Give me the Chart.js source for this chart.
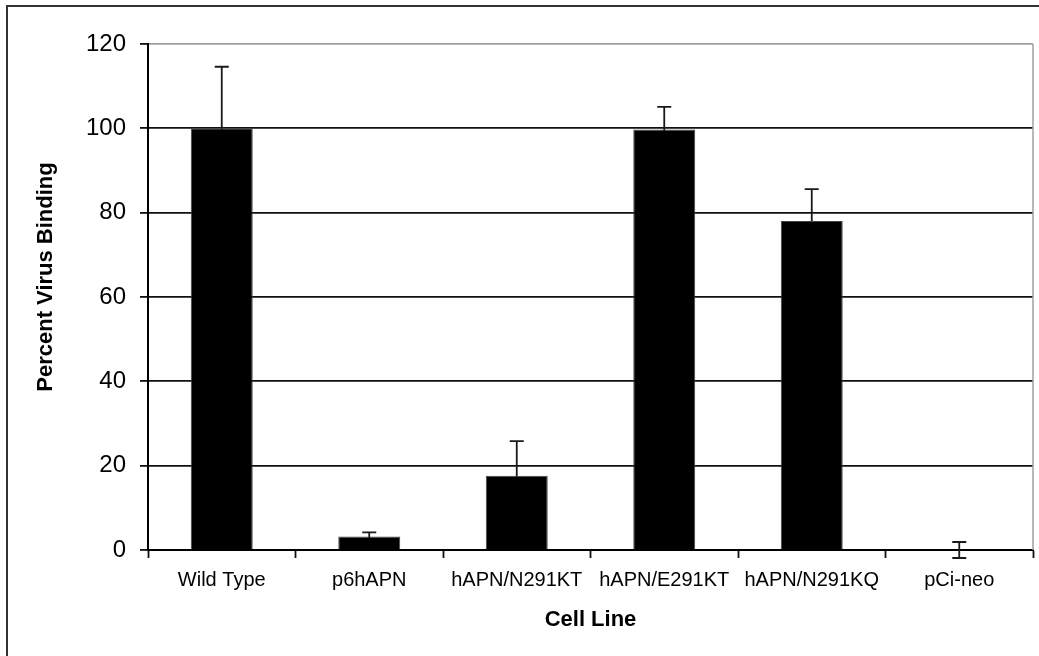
<!DOCTYPE html>
<html>
<head>
<meta charset="utf-8">
<script src="https://cdn.jsdelivr.net/npm/chart.js@4/dist/chart.umd.min.js"></script>
<style>
    body { margin: 0; background: #fff; }
    canvas { display: block; }
</style>
</head>
<body>
<canvas id="bindingChart" width="1039" height="656"></canvas>
<script>
// Data
const cellLines = ['Wild Type', 'p6hAPN', 'hAPN/N291KT', 'hAPN/E291KT', 'hAPN/N291KQ', 'pCi-neo'];
const bindingPct = [100, 3.2, 17.6, 99.7, 78, 0];
const bindingErr = [14.6, 1.0, 8.2, 5.4, 7.6, 1.9];
const yTicks = [0, 20, 40, 60, 80, 100, 120];

const FONT = "'Liberation Sans', Arial, sans-serif";

// Error bars (drawn under the bars, so only the upper half shows) + frame + y title
const extras = {
    id: 'extras',
    beforeDatasetsDraw(chart) {
        const ctx = chart.ctx;
        const y = chart.scales.y;
        const meta = chart.getDatasetMeta(0);
        ctx.save();
        ctx.strokeStyle = '#1a1a1a';
        ctx.lineWidth = 1.8;
        meta.data.forEach(function (bar, i) {
            const top = y.getPixelForValue(bindingPct[i] + bindingErr[i]);
            const bot = y.getPixelForValue(bindingPct[i] - bindingErr[i]);
            ctx.beginPath();
            ctx.moveTo(bar.x, top);
            ctx.lineTo(bar.x, bot);
            ctx.moveTo(bar.x - 7, top);
            ctx.lineTo(bar.x + 7, top);
            ctx.moveTo(bar.x - 7, bot);
            ctx.lineTo(bar.x + 7, bot);
            ctx.stroke();
        });
        ctx.restore();
    },
    afterDraw(chart) {
        const ctx = chart.ctx;
        const area = chart.chartArea;
        ctx.save();
        // right edge of the plot area
        ctx.strokeStyle = '#a0a0a0';
        ctx.lineWidth = 1.5;
        ctx.beginPath();
        ctx.moveTo(area.right, area.top);
        ctx.lineTo(area.right, area.bottom);
        ctx.stroke();
        // outer frame
        ctx.strokeStyle = '#333';
        ctx.lineWidth = 2;
        ctx.strokeRect(7, 6, 1100, 700);
        // y axis title
        ctx.translate(46, 277);
        ctx.rotate(-Math.PI / 2);
        ctx.fillStyle = '#000';
        ctx.font = 'bold 22px ' + FONT;
        ctx.textAlign = 'center';
        ctx.textBaseline = 'middle';
        ctx.fillText('Percent Virus Binding', 0, 0);
        ctx.restore();
    }
};

new Chart(document.getElementById('bindingChart'), {
    type: 'bar',
    data: {
        labels: cellLines,
        datasets: [{
            data: bindingPct,
            backgroundColor: '#000',
            borderColor: '#444',
            borderWidth: 1,
            barPercentage: 0.42,
            categoryPercentage: 1
        }]
    },
    options: {
        responsive: false,
        animation: false,
        layout: { padding: { left: 0, top: 44, right: 6, bottom: 0 } },
        plugins: {
            legend: { display: false },
            tooltip: { enabled: false }
        },
        scales: {
            x: {
                afterFit(scale) { scale.height = 106; },
                grid: {
                    offset: true,
                    drawOnChartArea: false,
                    drawTicks: true,
                    tickLength: 8,
                    tickColor: '#111',
                    tickWidth: 1.8
                },
                border: { color: '#000', width: 2 },
                ticks: {
                    color: '#000',
                    padding: 10,
                    maxRotation: 0,
                    font: { family: FONT, size: 20 }
                },
                title: {
                    display: true,
                    text: 'Cell Line',
                    color: '#000',
                    font: { family: FONT, size: 22, weight: 'bold' },
                    padding: { top: 0, bottom: 23 }
                }
            },
            y: {
                min: 0,
                max: 120,
                afterFit(scale) { scale.width = 148; },
                afterBuildTicks(scale) { scale.ticks = yTicks.map(v => ({ value: v })); },
                grid: {
                    color: c => (c.tick && c.tick.value === 120) ? '#a0a0a0' : '#111',
                    lineWidth: 1.8,
                    tickLength: 8,
                    tickColor: '#111'
                },
                border: { color: '#000', width: 2 },
                ticks: {
                    color: '#000',
                    padding: 14,
                    font: { family: FONT, size: 24 }
                }
            }
        }
    },
    plugins: [extras]
});
</script>
</body>
</html>
